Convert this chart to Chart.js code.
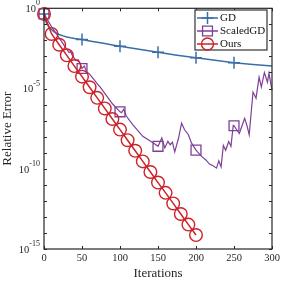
<!DOCTYPE html>
<html>
<head>
<meta charset="utf-8">
<script src="https://cdn.jsdelivr.net/npm/chart.js@4.4.1/dist/chart.umd.min.js"></script>
<style>
  html, body { margin: 0; padding: 0; background: #fff; }
</style>
</head>
<body>
<canvas id="errChart" width="281" height="281"></canvas>
<script>
// iterations and log10(relative error)
const gdIter = [0, 1, 2, 4, 6, 8, 10, 13, 16, 20, 25, 30, 35, 40, 45, 50, 60, 70, 80, 90, 100, 125, 150, 175, 200, 225, 250, 275, 300];
const gdLog = [-0.35, -0.6, -0.78, -0.98, -1.12, -1.24, -1.33, -1.45, -1.54, -1.63, -1.72, -1.79, -1.84, -1.88, -1.92, -1.95, -2.04, -2.12, -2.2, -2.28, -2.36, -2.55, -2.74, -2.92, -3.08, -3.24, -3.39, -3.5, -3.6];

const sgdIter = [0, 5, 10, 15, 20, 25, 30, 33, 35, 38, 42, 45, 48, 50, 53, 56, 60, 70, 74, 80, 90, 100, 102, 105, 108, 117, 130, 144, 150,
  153, 155, 159, 163, 166, 169, 172, 177, 181, 185, 190, 194, 200, 207, 213, 218, 222, 227, 230, 233, 236, 239, 243, 246, 249, 250,
  254, 257, 260, 264, 267, 270, 275, 279, 283, 286, 290, 294, 296, 300];
const sgdLog = [-0.35, -0.75, -1.15, -1.5, -1.85, -2.2, -2.55, -2.75, -2.7, -3.0, -3.25, -3.2, -3.5, -3.75, -3.6, -3.95, -4.1, -4.7, -4.91, -5.3, -5.95, -6.45, -6.5, -6.3, -6.7, -7.26, -7.98, -8.4, -8.6,
  -8.3, -8.08, -8.7, -8.29, -8.5, -8.35, -8.95, -8.1, -7.16, -7.57, -7.88, -8.39, -8.84, -9.21, -9.45, -9.72, -9.8, -9.96, -9.5, -9.88, -8.55, -8.85, -8.3, -8.6, -7.3, -7.32,
  -7.6, -7.8, -7.4, -6.86, -7.3, -7.88, -5.22, -5.6, -4.3, -4.9, -4.0, -4.6, -4.05, -5.1];

const oursIter = [0, 10, 20, 30, 40, 50, 60, 70, 80, 90, 100, 110, 120, 130, 140, 150, 160, 170, 180, 190, 200];
const oursLog = [-0.35, -1.6, -2.27, -2.93, -3.6, -4.26, -4.92, -5.58, -6.24, -6.9, -7.56, -8.22, -8.88, -9.54, -10.2, -10.86, -11.5, -12.16, -12.82, -13.48, -14.13];

const markIters = [0, 50, 100, 150, 200, 250];
const xTicks = [0, 50, 100, 150, 200, 250, 300];
const yTickExp = [0, -5, -10, -15];

const toPoints = (iters, logs) => iters.map((it, i) => ({ x: it, y: Math.pow(10, logs[i]) }));

const blue = '#3b6ea6';
const purple = '#7e3f98';
const red = '#cc2229';
const serif = '"Liberation Serif", "DejaVu Serif", serif';

const frameAndLabels = {
  id: 'frameAndLabels',
  afterDraw(chart) {
    const { ctx, chartArea: a, scales } = chart;
    const xs = scales.x, ys = scales.y;
    ctx.save();
    ctx.strokeStyle = '#262626';
    ctx.lineWidth = 1.2;
    ctx.strokeRect(a.left, a.top, a.right - a.left, a.bottom - a.top);

    // inward ticks
    ctx.lineWidth = 1;
    ctx.beginPath();
    xTicks.forEach(v => {
      const px = Math.round(xs.getPixelForValue(v)) + 0.5;
      ctx.moveTo(px, a.bottom); ctx.lineTo(px, a.bottom - 3);
      ctx.moveTo(px, a.top); ctx.lineTo(px, a.top + 3);
    });
    for (let e = 0; e >= -15; e--) {
      const py = Math.round(ys.getPixelForValue(Math.pow(10, e))) + 0.5;
      ctx.moveTo(a.left, py); ctx.lineTo(a.left + 3, py);
      ctx.moveTo(a.right, py); ctx.lineTo(a.right - 3, py);
    }
    ctx.stroke();

    ctx.fillStyle = '#262626';
    // x tick labels
    ctx.font = '10.5px ' + serif;
    ctx.textAlign = 'center';
    ctx.textBaseline = 'top';
    xTicks.forEach(v => ctx.fillText(String(v), xs.getPixelForValue(v), 253));

    // y tick labels with superscript
    yTickExp.forEach(e => {
      const py = ys.getPixelForValue(Math.pow(10, e));
      const right = a.left - 4;
      ctx.font = '8px ' + serif;
      ctx.textAlign = 'right';
      ctx.textBaseline = 'middle';
      const ex = String(e);
      ctx.fillText(ex, right, py - 5);
      const ew = ctx.measureText(ex).width;
      ctx.font = '10.5px ' + serif;
      ctx.fillText('10', right - ew, py + 1);
    });

    // axis titles
    ctx.font = '13px ' + serif;
    ctx.textAlign = 'center';
    ctx.textBaseline = 'alphabetic';
    ctx.fillText('Iterations', (a.left + a.right) / 2, 277);
    ctx.save();
    ctx.translate(11, (a.top + a.bottom) / 2);
    ctx.rotate(-Math.PI / 2);
    ctx.fillText('Relative Error', 0, 0);
    ctx.restore();

    // legend
    const lx = 195, ly = 10, lw = 72, lh = 40;
    ctx.fillStyle = '#fff';
    ctx.fillRect(lx, ly, lw, lh);
    ctx.strokeStyle = '#333';
    ctx.lineWidth = 1.2;
    ctx.strokeRect(lx, ly, lw, lh);
    const rows = [18, 31, 44];
    chart.data.datasets.forEach((ds, i) => {
      const y = rows[i];
      ctx.strokeStyle = ds.borderColor;
      ctx.lineWidth = 1.5;
      ctx.beginPath(); ctx.moveTo(197, y); ctx.lineTo(218, y); ctx.stroke();
      ctx.fillStyle = 'rgba(0,0,0,0)';
      ctx.lineWidth = ds.pointBorderWidth;
      Chart.helpers.drawPoint(ctx, {
        pointStyle: ds.pointStyle, radius: ds.legendRadius, rotation: 0,
        borderWidth: ds.pointBorderWidth
      }, 207.5, y);
      ctx.fillStyle = '#111';
      ctx.font = '11px ' + serif;
      ctx.textAlign = 'left';
      ctx.textBaseline = 'middle';
      ctx.fillText(ds.label, 220, y + 0.5);
    });
    ctx.restore();
  }
};

const markerRadius = r => c => (c.raw && markIters.includes(c.raw.x)) ? r : 0;

new Chart(document.getElementById('errChart'), {
  type: 'line',
  data: {
    datasets: [
      {
        label: 'GD',
        data: toPoints(gdIter, gdLog),
        borderColor: blue,
        borderWidth: 1.5,
        pointStyle: 'cross',
        pointRadius: markerRadius(6),
        legendRadius: 6,
        pointBorderWidth: 1.5,
        pointBorderColor: blue,
        pointBackgroundColor: 'transparent',
        order: 2
      },
      {
        label: 'ScaledGD',
        data: toPoints(sgdIter, sgdLog),
        borderColor: purple,
        borderWidth: 1.2,
        pointStyle: 'rect',
        pointRadius: markerRadius(7),
        legendRadius: 7,
        pointBorderWidth: 1.3,
        pointBorderColor: purple,
        pointBackgroundColor: 'transparent',
        order: 1
      },
      {
        label: 'Ours',
        data: toPoints(oursIter, oursLog),
        borderColor: red,
        borderWidth: 1.5,
        pointStyle: 'circle',
        pointRadius: 6.3,
        legendRadius: 6,
        pointBorderWidth: 1.4,
        pointBorderColor: red,
        pointBackgroundColor: 'transparent',
        order: 0
      }
    ]
  },
  options: {
    responsive: false,
    animation: false,
    events: [],
    layout: { padding: { left: 44, right: 9, top: 5, bottom: 32 } },
    elements: { line: { tension: 0 }, point: { hoverRadius: 0 } },
    datasets: { line: { clip: false } },
    plugins: { legend: { display: false }, tooltip: { enabled: false } },
    scales: {
      x: { type: 'linear', min: 0, max: 300, display: false },
      y: { type: 'logarithmic', min: 1e-15, max: 1, display: false }
    }
  },
  plugins: [frameAndLabels]
});
</script>
</body>
</html>
